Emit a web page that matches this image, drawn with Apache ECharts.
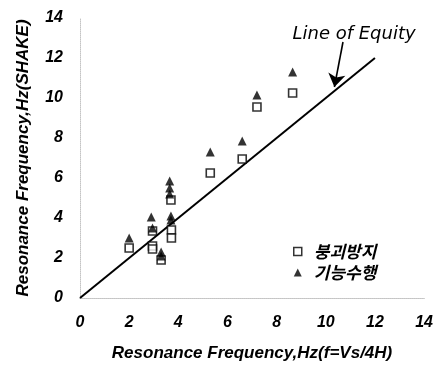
<!DOCTYPE html>
<html>
<head>
<meta charset="utf-8">
<script src="https://cdn.jsdelivr.net/npm/echarts@6/dist/echarts.min.js"></script>
<style>
  html, body { margin: 0; padding: 0; background: #fff; }
  #chart { width: 436px; height: 367px; }
</style>
</head>
<body>
<div id="chart"></div>
<script>
// Resonance frequency: simple estimate f = Vs/4H (x) vs SHAKE analysis (y)
const collapseName = '붕괴방지';
const collapseX = [2.0, 2.95, 2.95, 2.95, 3.3, 3.7, 3.72, 3.72, 5.3, 6.6, 7.2, 8.65];
const collapseY = [2.5, 2.6, 2.45, 3.35, 1.9, 4.9, 3.4, 3.0, 6.25, 6.95, 9.55, 10.25];

const functionName = '기능수행';
const functionX = [2.0, 2.9, 2.95, 3.3, 3.3, 3.65, 3.65, 3.65, 3.7, 3.7, 5.3, 6.6, 7.2, 8.65];
const functionY = [3.0, 4.05, 3.5, 2.3, 2.1, 5.85, 5.5, 5.2, 4.1, 3.9, 7.3, 7.85, 10.15, 11.3];

// 1:1 reference line
const equityX = [0, 12];
const equityY = [0, 12];
const equityLabel = 'Line of Equity';

const axisMin = 0, axisMax = 14, axisStep = 2;
const xTitle = 'Resonance Frequency,Hz(f=Vs/4H)';
const yTitle = 'Resonance Frequency,Hz(SHAKE)';

const zip = (xs, ys) => xs.map((x, i) => [x, ys[i]]);

const latin = 'Arial, "Liberation Sans", sans-serif';
const hangul = '"Noto Sans CJK KR", sans-serif';
const titleText = { fontFamily: latin, fontSize: 17, fontWeight: 'bold', fontStyle: 'italic', color: '#000' };
const frameLine = { show: true, lineStyle: { color: '#c4c4c4', width: 1, type: 'dotted' } };

const tickLabel = {
  margin: 17,
  fontFamily: latin,
  fontSize: 16,
  fontWeight: 'bolder',
  fontStyle: 'italic',
  color: '#000',
  textStyle: { fontWeight: 'bold', fontStyle: 'italic' }
};

const chart = echarts.init(document.getElementById('chart'), null, { renderer: 'canvas' });

chart.setOption({
  backgroundColor: '#fff',
  animation: false,
  textStyle: { fontFamily: latin, fontWeight: 'bold', fontStyle: 'italic', color: '#000' },
  grid: { left: 80, right: 8, top: 18, bottom: 65, containLabel: false },
  legend: {
    orient: 'vertical',
    left: 288,
    top: 238,
    itemWidth: 8,
    itemHeight: 8,
    itemGap: 4,
    data: [
      { name: collapseName, icon: 'rect', itemStyle: { color: '#fff', borderColor: '#000', borderWidth: 1.5 } },
      { name: functionName, icon: 'triangle', itemStyle: { color: '#000', borderWidth: 0 } }
    ],
    textStyle: { fontFamily: hangul, fontSize: 17, fontWeight: 'bold', fontStyle: 'italic', color: '#000', padding: [0, 0, 0, 7] }
  },
  xAxis: [
    {
      type: 'value', min: axisMin, max: axisMax, interval: axisStep,
      name: xTitle, nameLocation: 'middle', nameGap: 47, nameTextStyle: titleText,
      axisLine: frameLine, axisTick: { show: false }, splitLine: { show: false },
      axisLabel: tickLabel
    },
    {
      type: 'value', position: 'top', min: axisMin, max: axisMax,
      axisLine: frameLine, axisTick: { show: false }, splitLine: { show: false },
      axisLabel: { show: false }
    }
  ],
  yAxis: [
    {
      type: 'value', min: axisMin, max: axisMax, interval: axisStep,
      name: yTitle, nameLocation: 'middle', nameGap: 48, nameTextStyle: titleText,
      axisLine: { show: false }, axisTick: { show: false }, splitLine: { show: false },
      axisLabel: tickLabel
    },
    {
      type: 'value', position: 'right', min: axisMin, max: axisMax,
      axisLine: frameLine, axisTick: { show: false }, splitLine: { show: false },
      axisLabel: { show: false }
    }
  ],
  series: [
    {
      name: 'equity',
      type: 'line',
      data: zip(equityX, equityY),
      symbol: 'none',
      silent: true,
      lineStyle: { color: '#000', width: 2 },
      markLine: {
        silent: true,
        symbol: ['none', 'arrow'],
        symbolSize: 13,
        label: { show: false },
        lineStyle: { color: '#000', width: 1.6, type: 'solid' },
        data: [[{ coord: [10.7, 12.8] }, { coord: [10.35, 10.55] }]]
      }
    },
    {
      name: collapseName,
      type: 'scatter',
      data: zip(collapseX, collapseY),
      symbol: 'rect',
      symbolSize: 8,
      itemStyle: { color: '#fff', borderColor: '#000', borderWidth: 1.6 },
      z: 3
    },
    {
      name: functionName,
      type: 'scatter',
      data: zip(functionX, functionY),
      symbol: 'triangle',
      symbolSize: 9,
      itemStyle: { color: '#000' },
      z: 4
    }
  ]
});

// annotation text above the arrow pointing at the 1:1 line
const labelPos = chart.convertToPixel({ gridIndex: 0 }, [11.15, 13.2]);
chart.setOption({
  graphic: [{
    type: 'text',
    x: labelPos[0],
    y: labelPos[1],
    silent: true,
    style: {
      text: equityLabel,
      fill: '#000',
      font: 'italic 18px "DejaVu Sans", sans-serif',
      align: 'center',
      verticalAlign: 'middle'
    }
  }]
});
</script>
</body>
</html>
